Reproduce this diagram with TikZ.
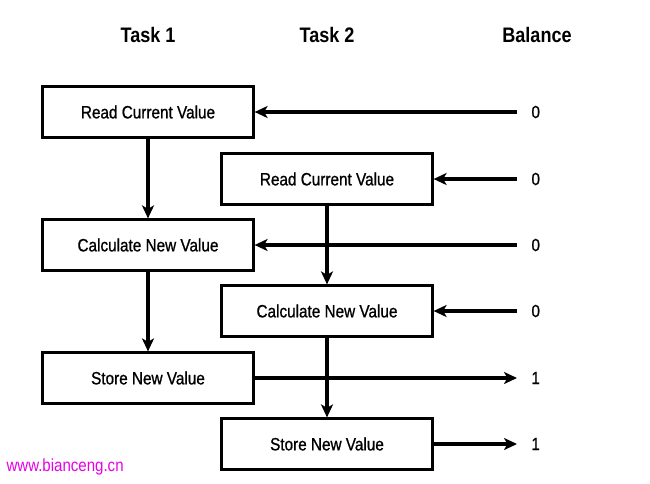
\documentclass[tikz,border=0pt]{standalone}
\usepackage{fontspec}
\setmainfont{Liberation Sans}[FakeStretch=0.86]
\newfontfamily\medfont{Liberation Sans}[FakeStretch=0.86,FakeBold=0.9]
\usetikzlibrary{arrows.meta}
\definecolor{wm}{RGB}{230,0,230}
\begin{document}
\begin{tikzpicture}[x=1pt,y=-1pt,
  box/.style={draw,line width=2.2pt,minimum width=211pt,minimum height=51pt,inner sep=0pt,font=\medfont\fontsize{17.8}{20}\selectfont},
  hdr/.style={font=\bfseries\fontsize{21}{24}\selectfont},
  num/.style={font=\medfont\fontsize{17.5}{20}\selectfont},
  conn/.style={line width=3.2pt,-{Stealth[length=13pt,width=12pt,inset=3.5pt]}}]
\useasboundingbox (0,0) rectangle (650,483);
\node[hdr] (h1) at (148,35) {Task 1};
\node[hdr] (h2) at (327,35) {Task 2};
\node[hdr] (h3) at (537,35) {Balance};
\node[box] (l1) at (148,112) {Read Current Value};
\node[box] (r1) at (327,179) {Read Current Value};
\node[box] (l2) at (148,245) {Calculate New Value};
\node[box] (r2) at (327,311) {Calculate New Value};
\node[box] (l3) at (148,378) {Store New Value};
\node[box] (r3) at (327,444) {Store New Value};
\node[num,anchor=west] (n1) at (528,112) {0};
\node[num,anchor=west] (n2) at (528,179) {0};
\node[num,anchor=west] (n3) at (528,245) {0};
\node[num,anchor=west] (n4) at (528,311) {0};
\node[num,anchor=west] (n5) at (528,378) {1};
\node[num,anchor=west] (n6) at (528,444) {1};
\coordinate (c1) at (517,112);
\coordinate (c2) at (517,179);
\coordinate (c3) at (517,245);
\coordinate (c4) at (517,311);
\coordinate (c5) at (517,378);
\coordinate (c6) at (517,444);
\draw[conn] (l1) -- (l2);
\draw[conn] (l2) -- (l3);
\draw[conn] (r1) -- (r2);
\draw[conn] (r2) -- (r3);
\draw[conn] (c1) -- (l1);
\draw[conn] (c2) -- (r1);
\draw[conn] (c3) -- (l2);
\draw[conn] (c4) -- (r2);
\draw[conn] (l3) -- (c5);
\draw[conn] (r3) -- (c6);
\node[anchor=west,text=wm,font=\fontsize{17.5}{20}\selectfont] (wm) at (3,467) {www.bianceng.cn};
\end{tikzpicture}
\end{document}
